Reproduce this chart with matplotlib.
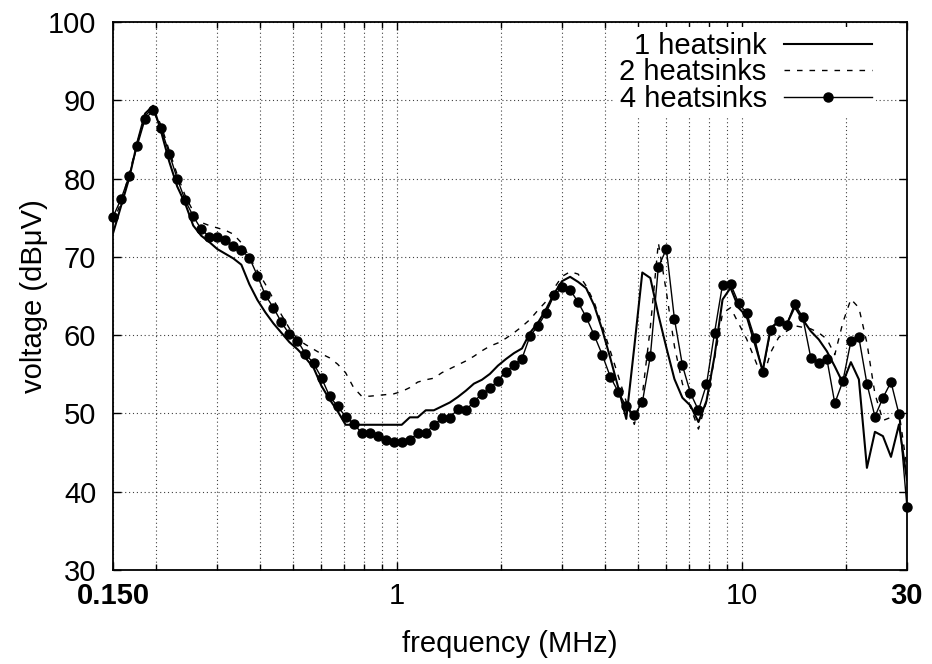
import matplotlib
matplotlib.use("Agg")
import matplotlib.pyplot as plt
from matplotlib.ticker import FixedLocator, NullFormatter

plt.rcParams['font.family'] = ['Liberation Sans', 'DejaVu Sans']

freq_mhz = [
    0.1500, 0.1583, 0.1670, 0.1761, 0.1858, 0.1960, 0.2068, 0.2182, 0.2302, 0.2429,
    0.2562, 0.2703, 0.2851, 0.3008, 0.3173, 0.3348, 0.3532, 0.3726, 0.3931, 0.4147,
    0.4375, 0.4615, 0.4869, 0.5137, 0.5419, 0.5717, 0.6031, 0.6363, 0.6713, 0.7082,
    0.7471, 0.7882, 0.8315, 0.8772, 0.9254, 0.9763, 1.030, 1.087, 1.146, 1.209,
    1.276, 1.346, 1.420, 1.498, 1.580, 1.667, 1.759, 1.855, 1.957, 2.065,
    2.178, 2.298, 2.424, 2.558, 2.698, 2.847, 3.003, 3.168, 3.342, 3.526,
    3.720, 3.925, 4.141, 4.368, 4.608, 4.862, 5.129, 5.411, 5.709, 6.023,
    6.354, 6.703, 7.072, 7.461, 7.871, 8.304, 8.761, 9.243, 9.750, 10.29,
    10.85, 11.45, 12.08, 12.74, 13.44, 14.18, 14.96, 15.79, 16.65, 17.57,
    18.53, 19.55, 20.63, 21.76, 22.96, 24.22, 25.55, 26.96, 28.44, 30.00,
]

one_heatsink = [
    73.0, 76.5, 80.0, 84.5, 88.3, 89.3, 86.0, 82.2, 79.0, 76.8,
    74.0, 72.7, 71.9, 71.0, 70.4, 69.8, 69.0, 66.5, 64.5, 62.9,
    61.5, 60.3, 59.1, 58.2, 57.1, 55.85, 53.5, 51.8, 50.3, 48.55,
    48.55, 48.55, 48.55, 48.55, 48.55, 48.55, 48.55, 49.5, 49.5, 50.4,
    50.4, 50.9, 51.4, 52.1, 52.9, 53.8, 54.3, 55.05, 56.1, 56.95,
    57.7, 58.3, 60.3, 61.6, 63.3, 65.3, 66.9, 67.45, 66.8, 66.0,
    63.8, 60.7, 57.1, 53.3, 49.3, 58.5, 68.0, 67.3, 62.6, 58.4,
    54.4, 52.0, 51.0, 48.9, 51.6, 57.3, 64.55, 66.05, 63.5, 62.4,
    59.0, 55.45, 60.9, 61.8, 61.35, 63.6, 62.0, 60.5, 59.45, 57.95,
    56.0, 53.9, 56.55, 54.35, 43.05, 47.65, 47.1, 44.45, 48.6, 41.5,
]

two_heatsinks = [
    74.3, 77.0, 80.5, 84.5, 88.0, 89.0, 86.8, 83.6, 80.5, 77.8,
    75.8, 74.4, 74.0, 73.7, 73.4, 72.9, 71.8, 70.0, 68.2, 66.5,
    64.6, 62.6, 60.85, 59.5, 58.8, 58.2, 57.6, 57.1, 56.3, 55.2,
    53.3, 52.2, 52.2, 52.3, 52.4, 52.5, 52.8, 53.3, 54.0, 54.3,
    54.5, 55.2, 55.7, 56.2, 56.7, 57.3, 58.0, 58.6, 59.0, 59.6,
    60.3, 61.1, 62.0, 63.2, 64.3, 66.0, 67.5, 68.1, 67.8, 66.3,
    64.2, 61.2, 58.0, 54.8, 51.5, 48.6, 52.3, 61.0, 71.8, 65.5,
    58.6, 53.8, 50.8, 48.0, 51.5, 57.0, 62.8, 63.5, 61.5, 59.5,
    57.0, 54.4, 57.8, 59.7, 60.5, 61.2, 61.0, 60.8, 60.3, 59.5,
    57.5, 61.6, 64.6, 63.5, 59.0, 52.5, 49.1, 49.5, 50.2, 43.0,
]

four_heatsinks = [
    75.1, 77.4, 80.3, 84.1, 87.6, 88.7, 86.4, 83.2, 80.0, 77.2,
    75.2, 73.5, 72.6, 72.6, 72.2, 71.4, 70.9, 69.9, 67.6, 65.1,
    63.5, 61.65, 60.1, 59.3, 57.6, 56.4, 54.55, 52.2, 50.9, 49.6,
    48.7, 47.5, 47.5, 47.1, 46.6, 46.4, 46.4, 46.6, 47.5, 47.5,
    48.5, 49.4, 49.4, 50.6, 50.4, 51.5, 52.5, 53.2, 54.2, 55.3,
    56.2, 57.0, 59.9, 61.2, 62.85, 65.1, 66.1, 65.8, 64.2, 62.3,
    60.0, 57.5, 54.7, 52.75, 50.9, 49.8, 51.4, 57.3, 68.7, 71.0,
    62.1, 56.15, 52.6, 50.4, 53.7, 60.3, 66.45, 66.55, 64.1, 62.85,
    59.65, 55.3, 60.6, 61.85, 61.35, 64.0, 62.3, 57.1, 56.5, 57.0,
    51.3, 54.1, 59.2, 59.7, 53.8, 49.6, 52.0, 54.0, 49.9, 38.0,
]

series_labels = ['1 heatsink', '2 heatsinks', '4 heatsinks']
x_tick_values = [0.15, 1, 10, 30]
x_tick_labels = ['0.150', '1', '10', '30']
y_ticks = [30, 40, 50, 60, 70, 80, 90, 100]
x_minor = [0.2, 0.3, 0.4, 0.5, 0.6, 0.7, 0.8, 0.9, 2, 3, 4, 5, 6, 7, 8, 9, 20]

FS = 21

fig = plt.figure(figsize=(9.32, 6.64), dpi=100)
ax = fig.add_axes([113 / 932, 1 - 570 / 664, 794 / 932, 548 / 664])

ax.plot(freq_mhz, one_heatsink, color='black', lw=1.5, label=series_labels[0])
ax.plot(freq_mhz, two_heatsinks, color='black', lw=1.0, linestyle=(0, (4, 5)),
        label=series_labels[1])
ax.plot(freq_mhz, four_heatsinks, color='black', lw=1.0, marker='o', markersize=6.5,
        label=series_labels[2], clip_on=False, zorder=3)

ax.set_xscale('log')
ax.set_xlim(0.15, 30)
ax.set_ylim(30, 100)

ax.xaxis.set_major_locator(FixedLocator(x_tick_values))
ax.set_xticklabels(x_tick_labels)
ax.xaxis.set_minor_locator(FixedLocator(x_minor))
ax.xaxis.set_minor_formatter(NullFormatter())
ax.set_yticks(y_ticks)

for lbl in ax.get_xticklabels():
    if lbl.get_text() in ('0.150', '30'):
        lbl.set_fontweight('bold')

ax.tick_params(axis='both', which='both', direction='in', top=True, right=True,
               labelsize=FS, width=1.0)
ax.tick_params(axis='both', which='major', length=6)
ax.tick_params(axis='x', which='minor', length=4)
ax.tick_params(axis='x', which='major', pad=9)
ax.tick_params(axis='y', which='major', pad=12)

grid_kw = dict(color='black', linestyle=(0, (1, 2.5)), linewidth=0.8, alpha=0.75)
ax.grid(True, which='major', axis='both', **grid_kw)
ax.grid(True, which='minor', axis='x', **grid_kw)
ax.set_axisbelow(True)

for s in ax.spines.values():
    s.set_linewidth(1.3)
    s.set_zorder(4)

ax.set_xlabel('frequency (MHz)', fontsize=FS, labelpad=14)
ax.set_ylabel('voltage (dBμV)', fontsize=FS, labelpad=0)

leg = ax.legend(loc='upper right', bbox_to_anchor=(0.961, 0.99), fontsize=FS,
                markerfirst=False, frameon=True, fancybox=False, framealpha=1.0,
                edgecolor='none', facecolor='white', handlelength=3.0,
                handletextpad=0.6, labelspacing=-0.05, borderpad=0.15,
                numpoints=1, borderaxespad=0.0)
leg.set_zorder(5)

fig.savefig('out.png', dpi=100)
